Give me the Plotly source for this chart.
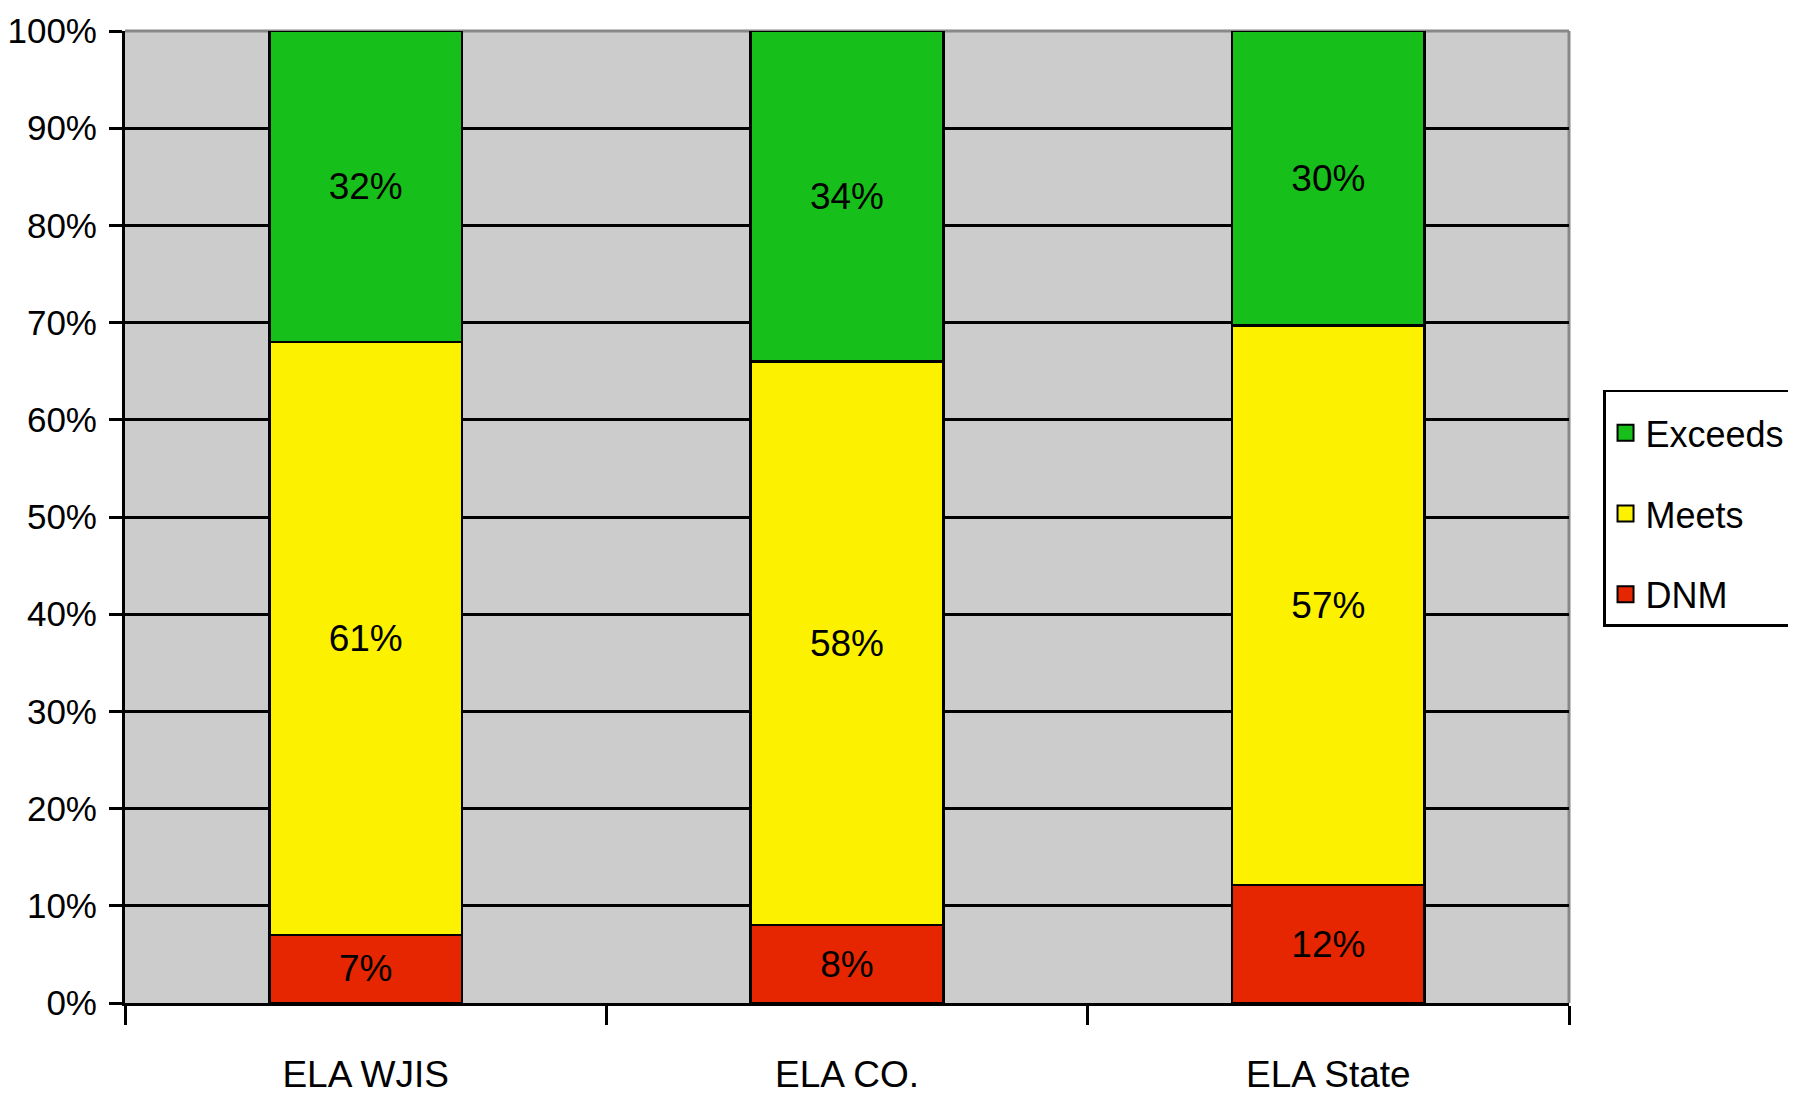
import plotly.graph_objects as go

categories = ["ELA WJIS", "ELA CO.", "ELA State"]
dnm = [7, 8, 12]
meets = [61, 58, 57]
exceeds = [32, 34, 30]
y_ticks = [0, 10, 20, 30, 40, 50, 60, 70, 80, 90, 100]

FONT = "Liberation Sans, Arial, sans-serif"
FS = 37
YFS = 35
LFS = 36

series = [
    ("DNM", dnm, "#E52600", 3),
    ("Meets", meets, "#FCF200", 2),
    ("Exceeds", exceeds, "#17BF1B", 1),
]

fig = go.Figure()
for name, vals, color, rank in series:
    fig.add_trace(go.Bar(
        x=categories, y=vals, name=name, showlegend=False,
        marker=dict(color=color, line=dict(color="black", width=2.5)),
        text=[f"{v}%" for v in vals], textposition="inside",
        insidetextanchor="middle", textangle=0,
        textfont=dict(family=FONT, size=FS, color="black"),
        hoverinfo="skip",
    ))
# legend entries (square swatches), top to bottom: Exceeds, Meets, DNM
for name, vals, color, rank in reversed(series):
    fig.add_trace(go.Scatter(
        x=[None], y=[None], mode="markers", name=name,
        legendgroup=name, legendrank=rank,
        marker=dict(symbol="square", size=16, color=color,
                    line=dict(color="black", width=2)),
        showlegend=True,
    ))

fig.update_layout(
    width=1796, height=1103,
    margin=dict(l=117, r=235, t=23, b=108),
    barmode="stack", barnorm="percent", bargap=0.6,
    plot_bgcolor="#CCCCCC", paper_bgcolor="white",
    font=dict(family=FONT, size=FS, color="black"),
    showlegend=True,
    legend=dict(
        xref="container", yref="container",
        x=0.8881, xanchor="left", y=0.6537, yanchor="top",
        traceorder="grouped", tracegroupgap=31,
        bordercolor="black", borderwidth=2.5, bgcolor="white",
        font=dict(family=FONT, size=LFS, color="black"),
        itemsizing="trace",
        title=dict(text=" ", font=dict(size=8)),
    ),
    shapes=[
        dict(type="line", xref="paper", yref="paper", x0=0, x1=1, y0=1, y1=1,
             line=dict(color="#888888", width=3), layer="between"),
        dict(type="line", xref="paper", yref="paper", x0=1, x1=1, y0=0, y1=1,
             line=dict(color="#888888", width=3), layer="between"),
    ],
)
fig.update_yaxes(
    range=[0, 100], tickvals=y_ticks, ticktext=[f"{t}%" for t in y_ticks],
    showgrid=True, gridcolor="black", gridwidth=3, zeroline=False,
    showline=True, linecolor="black", linewidth=3,
    ticks="outside", ticklen=13, tickwidth=3, tickcolor="black",
    ticklabelstandoff=5, automargin=False,
    tickfont=dict(family=FONT, size=YFS, color="black"),
)
fig.update_xaxes(
    type="category", tickson="boundaries", showgrid=False,
    showline=True, linecolor="black", linewidth=3,
    ticks="outside", ticklen=19, tickwidth=2.5, tickcolor="black",
    ticklabelstandoff=37, automargin=False,
    tickfont=dict(family=FONT, size=FS, color="black"),
)

fig.write_html("out.html")
